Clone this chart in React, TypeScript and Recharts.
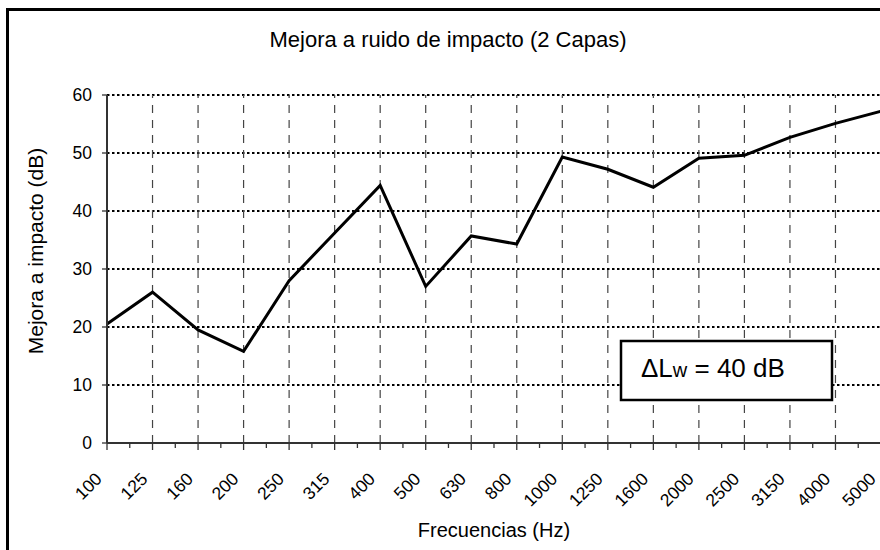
import React from 'react';
import { LineChart, Line, XAxis, YAxis, CartesianGrid, ReferenceLine } from 'recharts';

const FONT = '"Liberation Sans", Arial, sans-serif';

// frecuencias de tercio de octava
const freqs = [
  '100', '125', '160', '200', '250', '315', '400', '500', '630',
  '800', '1000', '1250', '1600', '2000', '2500', '3150', '4000', '5000',
];

// mejora a ruido de impacto (dB), 2 capas
const mejora = [
  20.5, 26.0, 19.5, 15.8, 28.0, 36.2, 44.4, 27.0, 35.7,
  34.3, 49.3, 47.2, 44.1, 49.1, 49.6, 52.7, 55.1, 57.2,
];

const yTicks = [0, 10, 20, 30, 40, 50, 60];

// marcas principales en cada banda y secundarias a mitad de camino
const xTicks = freqs.flatMap((_, i) => (i === 0 ? [0] : [i - 0.5, i]));

const data = freqs.map((f, i) => ({ i, f, v: mejora[i] }));

const FreqTick = (props: any) => {
  const { x, y, payload } = props;
  const v = payload.value;
  const major = Number.isInteger(v);
  const tx = x - 4;
  const ty = y + 37;
  return (
    <g>
      <line x1={x} x2={x} y1={y} y2={y + (major ? 7 : 5)} stroke="#333" strokeWidth={1.3} />
      {major && (
        <text
          x={tx}
          y={ty}
          transform={`rotate(-45, ${tx}, ${ty})`}
          textAnchor="end"
          fontSize={17.5}
          fontFamily={FONT}
          fill="#000"
        >
          {freqs[v]}
        </text>
      )}
    </g>
  );
};

export default function App() {
  return (
    <div style={{ position: 'absolute', left: 0, top: 0, width: 880, height: 550, overflow: 'hidden', background: '#fff' }}>
      <LineChart width={882} height={550} data={data} margin={{ top: 95, right: 1, bottom: 0, left: 47 }}>
        <CartesianGrid vertical={false} stroke="#000" strokeWidth={2} strokeDasharray="2.5 2.5" />
        {freqs.map((f, i) =>
          i === 0 ? null : (
            <ReferenceLine key={f} x={i} stroke="#444" strokeWidth={1.2} strokeDasharray="8 7" />
          )
        )}
        <XAxis
          dataKey="i"
          type="number"
          domain={[0, freqs.length - 1]}
          ticks={xTicks}
          interval={0}
          height={107}
          tickLine={false}
          tickSize={0}
          tickMargin={0}
          tick={<FreqTick />}
          axisLine={{ stroke: '#333', strokeWidth: 2 }}
        />
        <YAxis
          domain={[0, 60]}
          ticks={yTicks}
          interval={0}
          width={60}
          tickSize={5}
          tickMargin={10}
          tickLine={{ stroke: '#333', strokeWidth: 1.3 }}
          axisLine={{ stroke: '#333', strokeWidth: 2 }}
          tick={{ fill: '#000', fontSize: 17.5, fontFamily: FONT }}
        />
        <Line
          dataKey="v"
          type="linear"
          stroke="#000"
          strokeWidth={3}
          dot={false}
          isAnimationActive={false}
        />
      </LineChart>
      <svg
        width={880}
        height={550}
        style={{ position: 'absolute', left: 0, top: 0, pointerEvents: 'none' }}
        fontFamily={FONT}
      >
        <path d="M7.5 550 V9.5 H880" fill="none" stroke="#000" strokeWidth={3} />
        <text x={448} y={47} textAnchor="middle" fontSize={22} fill="#000">
          Mejora a ruido de impacto (2 Capas)
        </text>
        <text x={43} y={251} transform="rotate(-90, 43, 251)" textAnchor="middle" fontSize={21} fill="#000">
          Mejora a impacto (dB)
        </text>
        <text x={494} y={537} textAnchor="middle" fontSize={20} fill="#000">
          Frecuencias (Hz)
        </text>
        <rect x={621} y={341} width={211} height={59} fill="#fff" stroke="#000" strokeWidth={2.5} />
        <text x={641} y={377} fontSize={26} fill="#000">
          ΔL<tspan fontSize={20}>w</tspan> = 40 dB
        </text>
      </svg>
    </div>
  );
}
